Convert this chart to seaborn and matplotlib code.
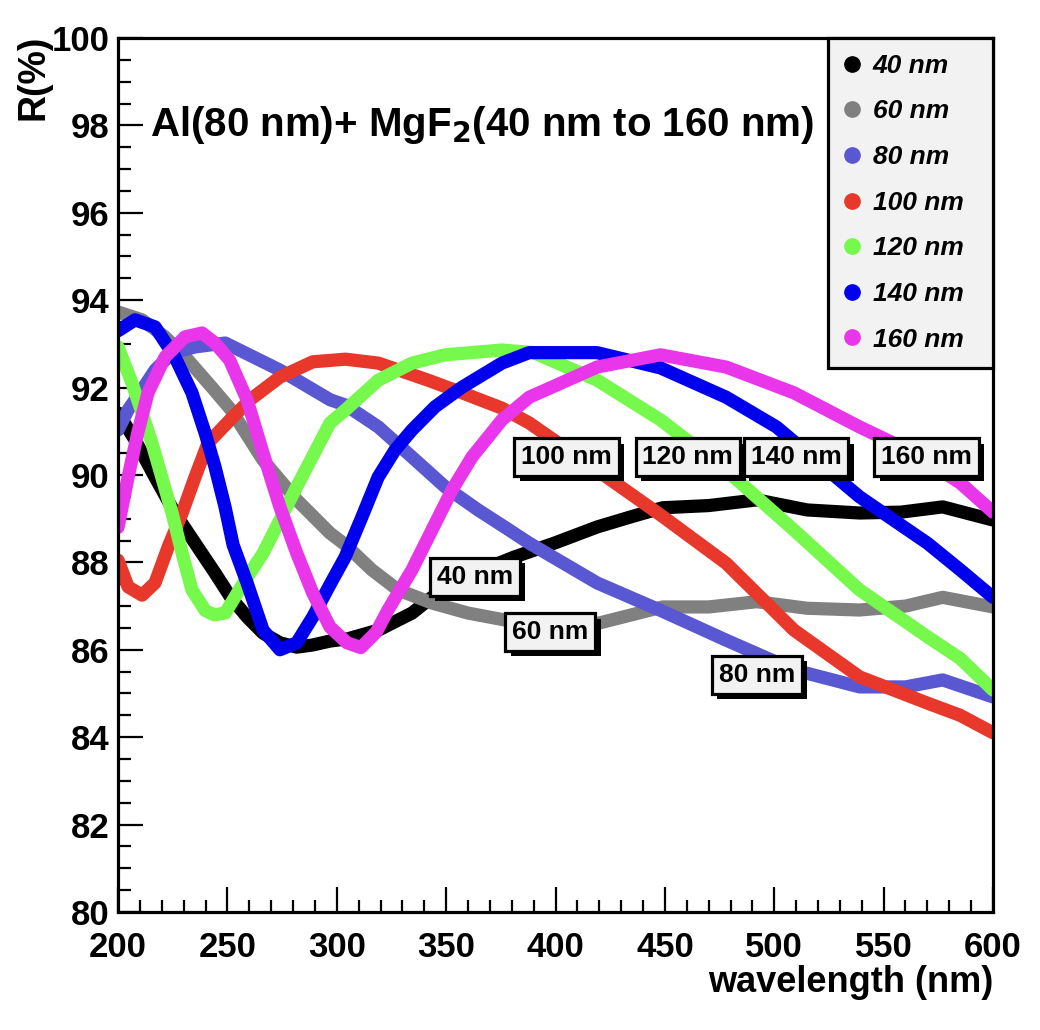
import pandas as pd
import matplotlib
matplotlib.use("Agg")
import matplotlib.pyplot as plt
import matplotlib.patheffects as pe
from matplotlib.lines import Line2D
from matplotlib.ticker import MultipleLocator
import seaborn as sns

# Reflectance curves, R(%) vs wavelength (nm)
wl_40 = [200, 207.8, 216.9, 226, 235.2, 244.3, 251.5, 259, 266.3, 274, 281.7, 289, 297, 305, 319, 334.4, 343.5, 358, 370, 381, 400, 419, 435, 449, 470, 492, 515, 539, 558, 577, 590, 600]
r_40 = [91.42, 90.8, 89.95, 89.13, 88.44, 87.76, 87.2, 86.75, 86.38, 86.16, 86.06, 86.11, 86.2, 86.25, 86.45, 86.84, 87.2, 87.6, 87.9, 88.12, 88.45, 88.81, 89.05, 89.25, 89.3, 89.43, 89.2, 89.13, 89.15, 89.27, 89.1, 88.97]
wl_60 = [200, 211, 221.5, 232, 243, 251.5, 266.3, 281.7, 296.9, 304, 316, 328, 343.5, 360, 377, 390, 419, 449, 470, 492, 515, 539, 560, 577, 600]
r_60 = [93.73, 93.55, 93.16, 92.63, 92.0, 91.5, 90.34, 89.43, 88.67, 88.4, 87.83, 87.37, 87.07, 86.84, 86.68, 86.65, 86.6, 86.98, 86.98, 87.1, 86.95, 86.91, 87.0, 87.2, 86.98]
wl_80 = [200, 204.6, 211, 216.9, 224.7, 235.2, 249, 274, 297, 304, 319, 334.4, 349.5, 364.6, 377, 388, 419, 449, 478, 509, 539, 560, 577, 600]
r_80 = [91.03, 91.49, 91.95, 92.4, 92.79, 92.93, 93.02, 92.4, 91.72, 91.6, 91.1, 90.41, 89.73, 89.2, 88.8, 88.44, 87.53, 86.88, 86.22, 85.54, 85.15, 85.15, 85.31, 84.92]
wl_100 = [200, 204.6, 211, 216.9, 222.9, 229.3, 235.2, 241.1, 251, 260.3, 274, 289, 304, 319, 341.7, 357.3, 375.5, 388, 419, 449, 478, 509, 539, 570, 585, 600]
r_100 = [88.05, 87.44, 87.25, 87.53, 88.35, 89.13, 89.95, 90.73, 91.25, 91.72, 92.24, 92.59, 92.65, 92.56, 92.17, 91.88, 91.53, 91.19, 90.11, 89.05, 87.98, 86.45, 85.38, 84.78, 84.5, 84.1]
wl_120 = [200, 206.4, 211, 215.5, 220, 224.7, 229.3, 233.8, 239.8, 244, 249, 257, 266.3, 281.7, 296.9, 304, 319, 334.4, 349.5, 375.5, 390, 419, 448, 478, 509, 539, 570, 585, 600]
r_120 = [92.93, 92.1, 91.42, 90.73, 89.95, 89.13, 88.21, 87.37, 86.9, 86.8, 86.84, 87.5, 88.21, 89.73, 91.19, 91.49, 92.17, 92.56, 92.75, 92.86, 92.8, 92.17, 91.26, 90.11, 88.74, 87.37, 86.3, 85.8, 85.08]
wl_140 = [200, 207.8, 216.9, 226, 233.8, 239.8, 244.3, 248.9, 252.6, 259, 266.3, 274, 281.7, 289, 297, 303.8, 311.5, 318.9, 326.6, 334.4, 344.9, 357.3, 375.5, 388, 419, 448, 478, 501, 539, 570, 585, 600]
r_140 = [93.3, 93.55, 93.39, 92.7, 91.88, 90.96, 90.19, 89.27, 88.4, 87.53, 86.45, 86.0, 86.16, 86.75, 87.5, 88.12, 89.04, 89.95, 90.57, 91.03, 91.56, 92.01, 92.56, 92.8, 92.8, 92.45, 91.78, 91.1, 89.5, 88.44, 87.83, 87.2]
wl_160 = [200, 204.6, 209, 213.7, 221.5, 230.6, 238.4, 244.3, 251, 259, 266.3, 274, 281.7, 289, 296.9, 304.7, 311, 318, 323.4, 334.4, 343.5, 352.7, 361.8, 375.5, 388, 419, 448, 478, 509, 539, 562, 585, 600]
r_160 = [88.8, 89.95, 90.96, 91.88, 92.7, 93.16, 93.25, 93.02, 92.63, 91.72, 90.5, 89.27, 88.21, 87.3, 86.52, 86.16, 86.05, 86.4, 86.91, 87.83, 88.74, 89.66, 90.41, 91.26, 91.78, 92.47, 92.75, 92.47, 91.88, 91.1, 90.55, 89.82, 89.15]

thickness = ["40 nm", "60 nm", "80 nm", "100 nm", "120 nm", "140 nm", "160 nm"]
colors = ["#000000", "#808080", "#5a57d2", "#e8372b", "#76f84c", "#0000ee", "#ea36ea"]

# in-plot labels (text, wavelength, R)
label_text = ["100 nm", "120 nm", "140 nm", "160 nm", "40 nm", "60 nm", "80 nm"]
label_x = [405, 460.5, 510, 569.5, 363, 397.5, 492]
label_y = [90.41, 90.41, 90.41, 90.41, 87.67, 86.41, 85.43]

series = [(wl_40, r_40), (wl_60, r_60), (wl_80, r_80), (wl_100, r_100),
          (wl_120, r_120), (wl_140, r_140), (wl_160, r_160)]
frames = []
for name, (wl, r) in zip(thickness, series):
    frames.append(pd.DataFrame({"wavelength": wl, "R": r, "thickness": name}))
df = pd.concat(frames, ignore_index=True)

sns.set_style("white")
plt.rcParams["font.family"] = ["Liberation Sans", "DejaVu Sans"]
plt.rcParams["font.weight"] = "bold"
for key in ["text.color", "axes.labelcolor", "xtick.color", "ytick.color"]:
    plt.rcParams[key] = "black"

fig = plt.figure(figsize=(10.4, 10.3), dpi=100)
ax = fig.add_axes([0.1135, 0.1146, 0.8413, 0.8485])

sns.lineplot(data=df, x="wavelength", y="R", hue="thickness", hue_order=thickness,
             palette=colors, linewidth=9.5, sort=False, legend=False, ax=ax,
             solid_capstyle="round", solid_joinstyle="round")

ax.set_xlim(200, 600)
ax.set_ylim(80, 100)
ax.xaxis.set_major_locator(MultipleLocator(50))
ax.xaxis.set_minor_locator(MultipleLocator(10))
ax.yaxis.set_major_locator(MultipleLocator(2))
ax.yaxis.set_minor_locator(MultipleLocator(0.5))
ax.tick_params(which="both", direction="in", bottom=True, left=True, top=False, right=False,
               width=1.6, color="black")
ax.tick_params(which="major", length=18, labelsize=25)
ax.tick_params(axis="x", which="major", pad=14)
ax.tick_params(axis="y", which="major", pad=6)
ax.tick_params(which="minor", length=9)
for lab in ax.get_xticklabels() + ax.get_yticklabels():
    lab.set_fontweight("bold")
for s in ax.spines.values():
    s.set_linewidth(2.3)
    s.set_color("black")

ax.set_xlabel("")
ax.set_ylabel("")
ax.text(1.0, -0.081, "wavelength (nm)", transform=ax.transAxes, fontsize=26,
        fontweight="bold", ha="right", va="center")
fig.text(33 / 1040, 1 - 35 / 1030, "R(%)", rotation=90, fontsize=27, fontweight="bold",
         ha="center", va="top")

ax.text(0.036, 0.9, r"Al(80 nm)+ MgF$_\mathbf{2}$(40 nm to 160 nm)", transform=ax.transAxes,
        fontsize=29, fontweight="bold", ha="left", va="center")

for txt, x, y in zip(label_text, label_x, label_y):
    t = ax.text(x, y, txt, fontsize=19, fontweight="bold", ha="center", va="center",
                bbox=dict(boxstyle="square,pad=0.26", fc="#f2f2f2", ec="black", lw=2.3))
    t.get_bbox_patch().set_path_effects([pe.withSimplePatchShadow(offset=(4, -4), shadow_rgbFace="black", alpha=1)])

handles = [Line2D([0], [0], marker="o", color="none", markerfacecolor=c, markeredgecolor=c,
                  markersize=11) for c in colors]
leg_x0 = (828 - 118) / 875
leg = ax.legend(handles, thickness, loc="upper left", bbox_to_anchor=(leg_x0, 0, 1.0 - leg_x0, 1.0),
                mode="expand", borderaxespad=0, frameon=True, fancybox=False, framealpha=1,
                borderpad=0.6, labelspacing=0.82, handletextpad=0.5, handlelength=0.6,
                prop={"size": 19, "weight": "bold", "style": "italic"})
leg.get_frame().set_facecolor("#f2f2f2")
leg.get_frame().set_edgecolor("black")
leg.get_frame().set_linewidth(2.3)

fig.savefig("out.png", dpi=100, facecolor="white")
